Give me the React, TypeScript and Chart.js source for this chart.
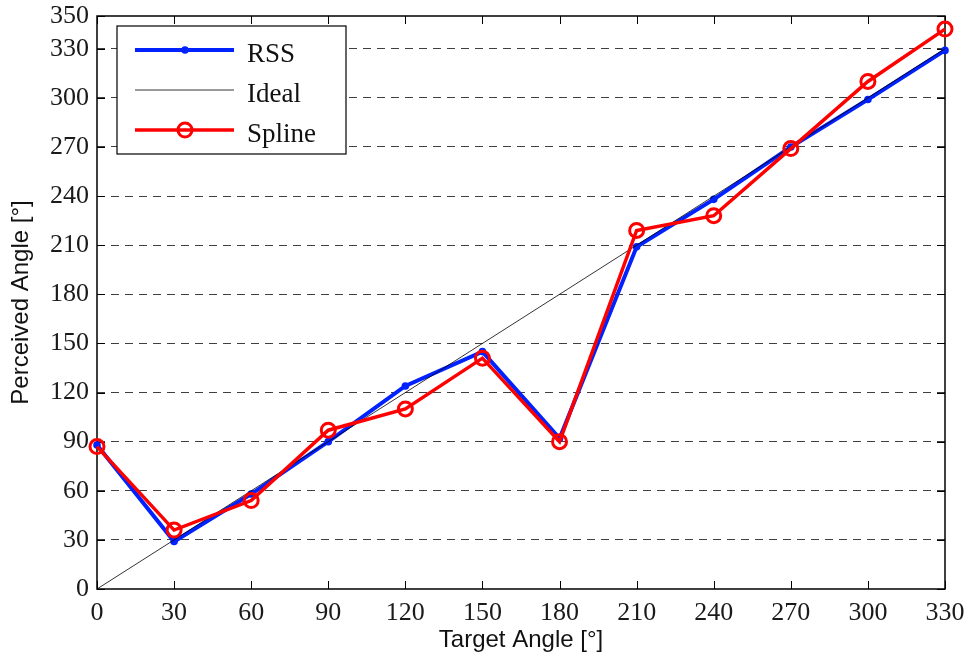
import { useEffect, useRef } from "react";
import { Chart, registerables } from "chart.js";

Chart.register(...registerables);

// ---- data ----
const targetAngles = [0, 30, 60, 90, 120, 150, 180, 210, 240, 270, 300, 330];
const rssValues = [88, 29, 58, 90, 124, 145, 92, 209, 238, 270, 299, 329];
const splineValues = [87, 36, 54, 97, 110, 141, 90, 219, 228, 269, 310, 342];
const idealX = [0, 330];
const idealY = [0, 330];
const xTickValues = [0, 30, 60, 90, 120, 150, 180, 210, 240, 270, 300, 330];
const yTickValues = [0, 30, 60, 90, 120, 150, 180, 210, 240, 270, 300, 330, 350];
const seriesLabels = ["RSS", "Ideal", "Spline"];

const BLUE = "rgb(0,34,255)";
const RED = "rgb(255,0,0)";

const framePlugin = {
  id: "matlabFrame",
  beforeDatasetsDraw(chart: any) {
    const { ctx, chartArea, scales } = chart;
    const { left, right, top, bottom } = chartArea;
    const xs = scales.x;
    const ys = scales.y;
    ctx.save();
    ctx.strokeStyle = "#000";
    ctx.lineWidth = 1;
    const tl = 8;
    ctx.beginPath();
    for (const v of xTickValues) {
      const px = Math.round(xs.getPixelForValue(v)) + 0.5;
      ctx.moveTo(px, bottom);
      ctx.lineTo(px, bottom - tl);
      ctx.moveTo(px, top);
      ctx.lineTo(px, top + tl);
    }
    for (const v of yTickValues) {
      const py = Math.round(ys.getPixelForValue(v)) + 0.5;
      ctx.moveTo(left, py);
      ctx.lineTo(left + tl, py);
      ctx.moveTo(right, py);
      ctx.lineTo(right - tl, py);
    }
    ctx.stroke();
    ctx.lineWidth = 1.5;
    ctx.strokeRect(left, top, right - left, bottom - top);
    ctx.restore();
  },
};

const legendPlugin = {
  id: "boxLegend",
  afterDatasetsDraw(chart: any) {
    const { ctx } = chart;
    const bx = 117, by = 26, bw = 229, bh = 128;
    ctx.save();
    ctx.fillStyle = "#fff";
    ctx.fillRect(bx, by, bw, bh);
    ctx.strokeStyle = "#000";
    ctx.lineWidth = 1.2;
    ctx.strokeRect(bx, by, bw, bh);
    chart.data.datasets.forEach((ds: any, i: number) => {
      const cy = 50 + i * 40;
      ctx.strokeStyle = ds.borderColor;
      ctx.lineWidth = ds.borderWidth;
      ctx.beginPath();
      ctx.moveTo(135, cy);
      ctx.lineTo(234, cy);
      ctx.stroke();
      if (ds.pointRadius > 0) {
        ctx.beginPath();
        ctx.arc(185, cy, ds.pointRadius, 0, Math.PI * 2);
        if (ds.pointBorderWidth > 0) {
          ctx.lineWidth = ds.pointBorderWidth;
          ctx.strokeStyle = ds.pointBorderColor;
          ctx.stroke();
        } else {
          ctx.fillStyle = ds.pointBackgroundColor;
          ctx.fill();
        }
      }
      ctx.fillStyle = "#111";
      ctx.font = "27px 'Liberation Serif'";
      ctx.textBaseline = "alphabetic";
      ctx.textAlign = "left";
      ctx.fillText(ds.label, 247, cy + 12);
    });
    ctx.restore();
  },
};

export default function App() {
  const ref = useRef<HTMLCanvasElement>(null);
  useEffect(() => {
    if (!ref.current) return;
    const chart = new Chart(ref.current, {
      type: "line",
      data: {
        datasets: [
          {
            label: seriesLabels[0],
            data: targetAngles.map((x, i) => ({ x, y: rssValues[i] })),
            borderColor: BLUE,
            backgroundColor: BLUE,
            borderWidth: 4,
            pointRadius: 3.8,
            pointBorderWidth: 0,
            pointBackgroundColor: BLUE,
            pointBorderColor: BLUE,
            order: 3,
            clip: false,
          },
          {
            label: seriesLabels[1],
            data: idealX.map((x, i) => ({ x, y: idealY[i] })),
            borderColor: "#000",
            backgroundColor: "#000",
            borderWidth: 0.8,
            pointRadius: 0,
            pointBorderWidth: 0,
            order: 2,
            clip: false,
          },
          {
            label: seriesLabels[2],
            data: targetAngles.map((x, i) => ({ x, y: splineValues[i] })),
            borderColor: RED,
            backgroundColor: RED,
            borderWidth: 3.5,
            pointRadius: 7,
            pointBorderWidth: 3,
            pointBackgroundColor: "rgba(0,0,0,0)",
            pointBorderColor: RED,
            order: 1,
            clip: false,
          },
        ] as any,
      },
      options: {
        animation: false,
        responsive: false,
        devicePixelRatio: 1,
        layout: { padding: { top: 16, right: 25, left: 0, bottom: 0 } },
        plugins: {
          legend: { display: false },
          tooltip: { enabled: false },
        },
        scales: {
          x: {
            type: "linear",
            min: 0,
            max: 330,
            afterBuildTicks: (s: any) => {
              s.ticks = xTickValues.map((v) => ({ value: v }));
            },
            afterFit: (s: any) => {
              s.height = 68;
              s.paddingLeft = 0;
              s.paddingRight = 0;
            },
            grid: { display: false, drawTicks: false },
            border: { display: false },
            ticks: {
              padding: 9,
              color: "#1a1a1a",
              font: { family: "'Liberation Serif'", size: 26 },
              maxRotation: 0,
              autoSkip: false,
            },
            title: {
              display: true,
              text: "Target Angle [°]",
              color: "#111",
              font: { family: "'Liberation Sans'", size: 24 },
              padding: { top: 0, bottom: 2 },
            },
          },
          y: {
            type: "linear",
            min: 0,
            max: 350,
            afterBuildTicks: (s: any) => {
              s.ticks = yTickValues.map((v) => ({ value: v }));
            },
            afterFit: (s: any) => {
              s.width = 97;
              s.paddingTop = 0;
              s.paddingBottom = 0;
            },
            grid: {
              drawTicks: false,
              lineWidth: 1,
              color: (c: any) =>
                c.tick && (c.tick.value === 0 || c.tick.value === 350)
                  ? "rgba(0,0,0,0)"
                  : "rgba(0,0,0,0.75)",
            },
            border: { display: false, dash: [8, 6] },
            ticks: {
              padding: 8,
              color: "#1a1a1a",
              font: { family: "'Liberation Serif'", size: 26 },
              autoSkip: false,
            },
            title: {
              display: true,
              text: "Perceived Angle [°]",
              color: "#111",
              font: { family: "'Liberation Sans'", size: 24 },
              padding: { top: 7, bottom: 0 },
            },
          },
        },
      } as any,
      plugins: [framePlugin, legendPlugin],
    });
    return () => chart.destroy();
  }, []);

  return (
    <div style={{ position: "absolute", left: 0, top: 0, width: 970, height: 657, background: "#fff" }}>
      <canvas ref={ref} width={970} height={657} style={{ display: "block" }} />
    </div>
  );
}
